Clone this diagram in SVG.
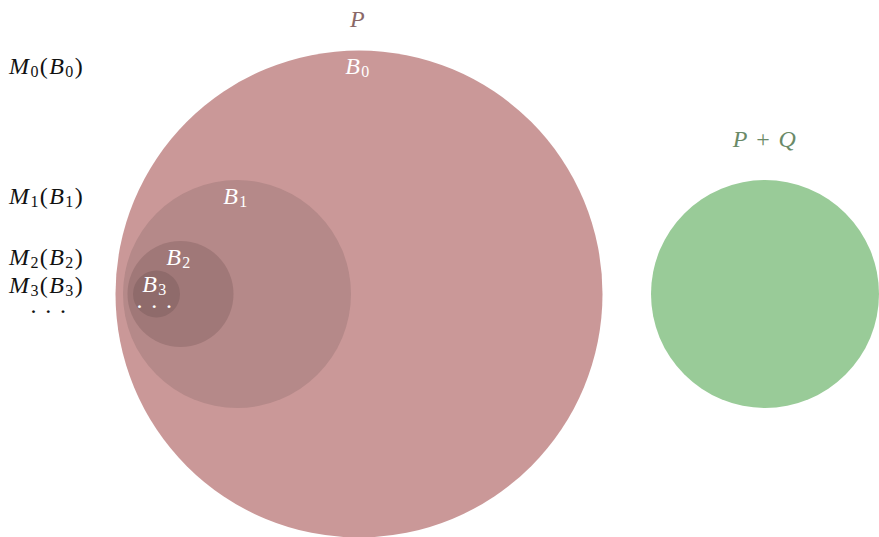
<svg xmlns="http://www.w3.org/2000/svg" width="879" height="537" viewBox="0 0 879 537">
<style>
text{font-family:"Liberation Serif","DejaVu Serif",serif;font-size:24px;letter-spacing:1.4px}
.i{font-style:italic}
.s{font-size:16px;font-style:normal}
.w{fill:#ffffff}
.k{fill:#111111}
</style>
<rect width="879" height="537" fill="#ffffff"/>
<g id="P">
<circle cx="359" cy="294" r="243.5" fill="#ca9898"/>
<text x="358" y="27" text-anchor="middle" class="i" fill="#8a6868">P</text>
<text x="358" y="74" text-anchor="middle" class="w"><tspan class="i">B</tspan><tspan class="s" dy="3">0</tspan></text>
</g>
<g id="B1">
<circle cx="237" cy="294" r="114" fill="#b58989"/>
<text x="236" y="204" text-anchor="middle" class="w"><tspan class="i">B</tspan><tspan class="s" dy="3">1</tspan></text>
</g>
<g id="B2">
<circle cx="180.5" cy="294" r="53" fill="#a07878"/>
<text x="179" y="265" text-anchor="middle" class="w"><tspan class="i">B</tspan><tspan class="s" dy="3">2</tspan></text>
</g>
<g id="B3">
<circle cx="156.5" cy="294" r="23.5" fill="#8f6b6b"/>
<text x="155" y="292" text-anchor="middle" class="w"><tspan class="i">B</tspan><tspan class="s" dy="3">3</tspan></text>
<text x="155" y="308" text-anchor="middle" class="w" font-size="13">. . .</text>
</g>
<g id="PQ">
<circle cx="765" cy="294" r="114" fill="#99cb98"/>
<text x="765" y="147" text-anchor="middle" fill="#6a8a68"><tspan class="i">P</tspan> + <tspan class="i">Q</tspan></text>
</g>
<g id="labels" class="k">
<text x="9" y="74"><tspan class="i">M</tspan><tspan class="s" dy="3">0</tspan><tspan dy="-3">(</tspan><tspan class="i">B</tspan><tspan class="s" dy="3">0</tspan><tspan dy="-3">)</tspan></text>
<text x="9" y="204"><tspan class="i">M</tspan><tspan class="s" dy="3">1</tspan><tspan dy="-3">(</tspan><tspan class="i">B</tspan><tspan class="s" dy="3">1</tspan><tspan dy="-3">)</tspan></text>
<text x="9" y="265"><tspan class="i">M</tspan><tspan class="s" dy="3">2</tspan><tspan dy="-3">(</tspan><tspan class="i">B</tspan><tspan class="s" dy="3">2</tspan><tspan dy="-3">)</tspan></text>
<text x="9" y="293"><tspan class="i">M</tspan><tspan class="s" dy="3">3</tspan><tspan dy="-3">(</tspan><tspan class="i">B</tspan><tspan class="s" dy="3">3</tspan><tspan dy="-3">)</tspan></text>
<text x="49" y="313" text-anchor="middle" font-size="13">. . .</text>
</g>
<g id="connectors"/>
</svg>
